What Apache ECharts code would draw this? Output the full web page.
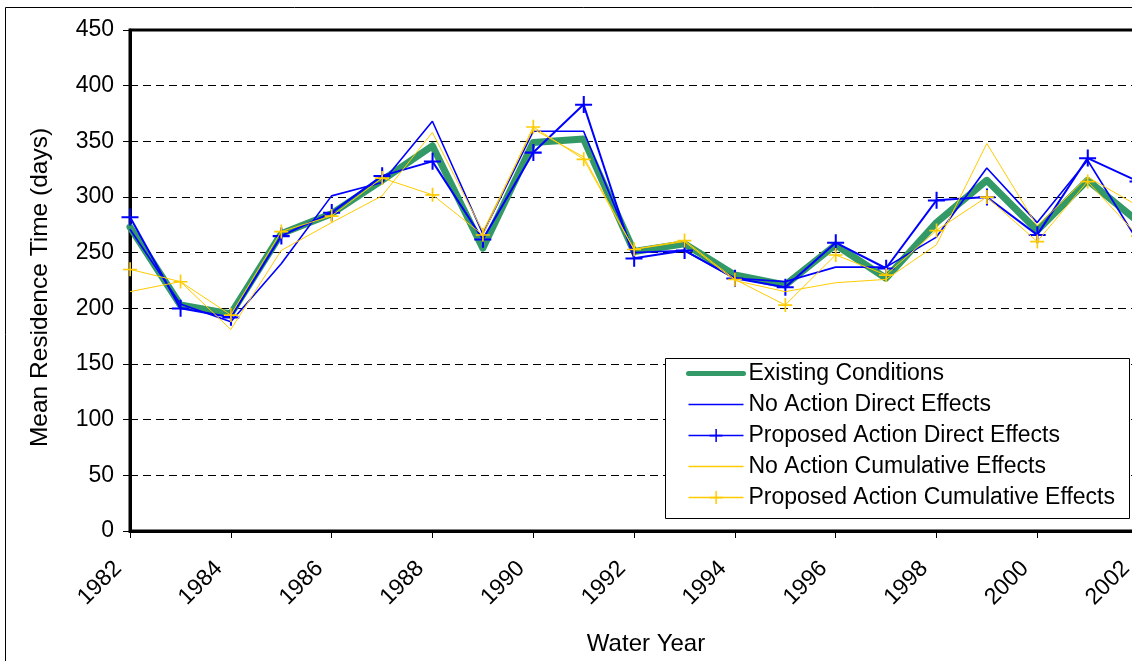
<!DOCTYPE html>
<html>
<head>
<meta charset="utf-8">
<script src="https://cdn.jsdelivr.net/npm/echarts@6/dist/echarts.min.js"></script>
<style>
  html, body { margin: 0; padding: 0; background: #fff; overflow: hidden; }
  #chart { width: 1160px; height: 661px; }
</style>
</head>
<body>
<div id="chart"></div>
<script>
// Water years shown on the horizontal axis
const years = [1982, 1983, 1984, 1985, 1986, 1987, 1988, 1989, 1990, 1991, 1992,
               1993, 1994, 1995, 1996, 1997, 1998, 1999, 2000, 2001, 2002];

// Mean residence time (days) per scenario
const existingConditions = [273, 203, 195, 267, 285, 315, 346, 254, 349, 352, 251,
                            258, 230, 221, 257, 227, 277, 315, 270, 315, 278];
const noActionDirect = [271, 204, 188, 240, 301, 313, 368, 267, 359, 359, 250,
                        252, 227, 224, 237, 237, 264, 326, 277, 333, 260];
const proposedActionDirect = [282, 200, 192, 265, 286, 319, 332, 262, 340, 383, 245,
                              252, 227, 219, 259, 236, 297, 300, 266, 335, 314];
const noActionCumulative = [215, 224, 181, 252, 277, 301, 358, 269, 361, 336, 253,
                            260, 225, 215, 223, 226, 257, 348, 274, 318, 292];
const proposedActionCumulative = [235, 224, 194, 269, 283, 317, 302, 266, 363, 334, 253,
                                  261, 226, 203, 248, 230, 270, 300, 260, 314, 265];

const seriesNames = [
  'Existing Conditions',
  'No Action Direct Effects',
  'Proposed Action Direct Effects',
  'No Action Cumulative Effects',
  'Proposed Action Cumulative Effects'
];

const pairs = vals => years.map((y, i) => [y, vals[i]]);

// thin plus-sign marker
const PLUS = 'path://M9,0h2.4v9h8.6v2.4h-8.6v8.6h-2.4v-8.6h-9v-2.4h9z';

const FONT = '"Liberation Sans", Arial, sans-serif';
const GREEN = '#339966', BLUE = '#0000ff', GOLD = '#ffcc00';

const chart = echarts.init(document.getElementById('chart'), null, { renderer: 'canvas' });

// plain-line legend entries hide the marker the line icon would otherwise carry
const hiddenMarker = { opacity: 0 };

chart.setOption({
  animation: false,
  backgroundColor: '#fff',
  textStyle: { fontFamily: FONT, color: '#000' },
  grid: {
    left: 130, right: 22, top: 30, bottom: 127,
    show: true, borderColor: '#000', borderWidth: 3, backgroundColor: 'transparent'
  },
  xAxis: {
    type: 'value',
    min: 1982, max: 2002, interval: 2,
    name: 'Water Year',
    nameLocation: 'middle',
    nameGap: 101,
    nameTextStyle: { fontSize: 24, fontFamily: FONT, color: '#000', padding: [0, 0, 0, 24] },
    axisLine: { show: true, lineStyle: { color: '#000', width: 3 } },
    axisTick: { show: true, length: 7, lineStyle: { color: '#000', width: 1 } },
    axisLabel: { rotate: 45, margin: 22, padding: [0, 17, 0, 0], fontSize: 23,
                 fontFamily: FONT, color: '#000', formatter: v => String(v) },
    splitLine: { show: false }
  },
  yAxis: {
    type: 'value',
    min: 0, max: 450, interval: 50,
    name: 'Mean Residence Time (days)',
    nameLocation: 'middle',
    nameGap: 77,
    nameTextStyle: { fontSize: 24.5, fontFamily: FONT, color: '#000', padding: [0, 14, 0, 0] },
    axisLine: { show: true, lineStyle: { color: '#000', width: 3 } },
    axisTick: { show: true, length: 7, lineStyle: { color: '#000', width: 1 } },
    axisLabel: { margin: 16, fontSize: 23, fontFamily: FONT, color: '#000' },
    splitLine: { show: true, lineStyle: { color: '#000', width: 1, type: [8, 5] } }
  },
  legend: {
    orient: 'vertical',
    left: 686, top: 362,
    padding: 0,
    itemWidth: 55, itemHeight: 16, itemGap: 8,
    z: 20,
    data: [
      { name: seriesNames[0], itemStyle: hiddenMarker, lineStyle: { color: GREEN, width: 5, cap: 'round' } },
      { name: seriesNames[1], itemStyle: hiddenMarker, lineStyle: { color: BLUE, width: 1.5 } },
      { name: seriesNames[2], lineStyle: { color: BLUE, width: 1.5 } },
      { name: seriesNames[3], itemStyle: hiddenMarker, lineStyle: { color: GOLD, width: 1.5 } },
      { name: seriesNames[4], lineStyle: { color: GOLD, width: 1.5 } }
    ],
    textStyle: { fontSize: 23, fontFamily: FONT, color: '#000', lineHeight: 23 }
  },
  graphic: [
    { // outer chart frame
      type: 'rect', z: 0, silent: true,
      shape: { x: 5.5, y: 7.5, width: 1400, height: 900 },
      style: { fill: 'none', stroke: '#000', lineWidth: 1 }
    },
    { // legend box
      type: 'rect', z: 15, silent: true,
      shape: { x: 665.5, y: 358.5, width: 464, height: 160 },
      style: { fill: '#fff', stroke: '#000', lineWidth: 1 }
    }
  ],
  series: [
    {
      name: seriesNames[0], type: 'line', data: pairs(existingConditions),
      symbol: 'none', color: GREEN,
      lineStyle: { color: GREEN, width: 7, join: 'round', cap: 'round' }, z: 2
    },
    {
      name: seriesNames[1], type: 'line', data: pairs(noActionDirect),
      symbol: 'none', color: BLUE,
      lineStyle: { color: BLUE, width: 1.6 }, z: 3
    },
    {
      name: seriesNames[2], type: 'line', data: pairs(proposedActionDirect),
      symbol: PLUS, symbolSize: 17, showAllSymbol: true, color: BLUE,
      itemStyle: { color: BLUE },
      lineStyle: { color: BLUE, width: 2 }, z: 4
    },
    {
      name: seriesNames[3], type: 'line', data: pairs(noActionCumulative),
      symbol: 'none', color: GOLD,
      lineStyle: { color: GOLD, width: 1 }, z: 5
    },
    {
      name: seriesNames[4], type: 'line', data: pairs(proposedActionCumulative),
      symbol: PLUS, symbolSize: 14, showAllSymbol: true, color: GOLD,
      itemStyle: { color: GOLD },
      lineStyle: { color: GOLD, width: 1 }, z: 6
    }
  ]
});
</script>
</body>
</html>
